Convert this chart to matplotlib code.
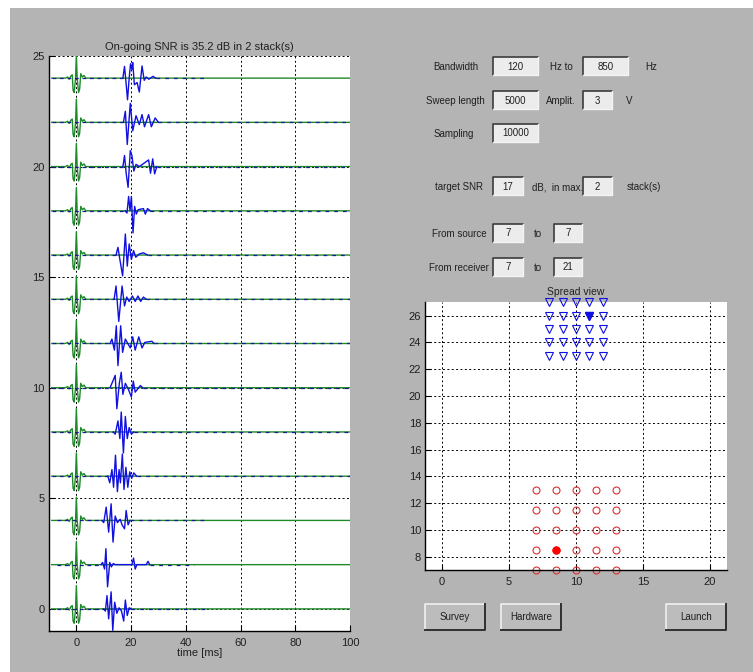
import numpy as np
import matplotlib.pyplot as plt
from matplotlib.patches import Rectangle

plt.rcParams['font.family'] = ['Liberation Sans', 'DejaVu Sans']
plt.rcParams['font.size'] = 7

# ---- trace data ----
trace_offsets = [0, 2, 4, 6, 8, 10, 12, 14, 16, 18, 20, 22, 24]
trace_start = [-7, -7, -7, -9, -9, -9, -9, -9, -9, -9, -9, -9, -9]
trace_end = [47, 43, 48, 100, 100, 100, 100, 100, 100, 100, 100, 100, 47]

# reference wavelet (green), time [ms] / amplitude
ref_t = [-9, -4, -3.2, -2.6, -2.0, -1.5, -1.2, -0.8, -0.3, 0.0, 0.3, 0.8, 1.2, 1.6, 2.2, 2.8, 3.4, 100]
ref_a = [0, 0, 0.05, -0.05, 0.1, 0.15, -0.55, -0.65, 0.0, 1.05, 0.0, -0.65, -0.5, 0.2, 0.05, 0.12, 0, 0]

# recorded arrivals (blue), one list of (time, amplitude) per trace
arr_t = [
    [10.0, 10.6, 11.2, 11.8, 12.7, 13.3, 14.0, 14.8, 15.6, 16.5, 17.3, 17.9, 18.6, 19.3, 20.0],
    [9.0, 9.6, 10.3, 10.8, 11.4, 12.2, 12.8, 13.5, 14.2, 20.3, 20.9, 21.5, 22.1, 25.5, 26.2, 26.8],
    [9.3, 10.0, 10.9, 11.8, 12.7, 13.4, 14.2, 15.0, 16.0, 16.7, 17.6, 18.2, 18.9, 19.6],
    [11.5, 12.2, 13.0, 13.6, 14.3, 15.0, 15.6, 16.1, 16.8, 17.4, 18.1, 18.8, 19.5, 20.2, 21.0, 22.0],
    [13.5, 14.2, 15.2, 15.9, 16.4, 17.2, 17.9, 18.6, 19.3, 20.1, 21.0],
    [12.3, 13.0, 14.2, 14.8, 15.7, 16.4, 17.0, 17.9, 19.1, 20.1, 20.8, 21.5, 23.4, 24.2],
    [12.3, 13.0, 13.9, 14.6, 15.2, 16.2, 16.9, 17.9, 19.7, 20.6, 21.5, 22.8, 24.0, 25.0, 27.6, 28.4],
    [13.8, 14.5, 15.5, 16.7, 17.6, 18.4, 19.3, 20.5, 21.5, 22.5, 23.5, 24.5, 25.5],
    [14.5, 15.2, 15.9, 16.9, 17.9, 18.6, 19.3, 20.1, 20.9, 21.7, 23.0, 24.5, 26.0],
    [17.8, 18.5, 19.1, 19.6, 20.1, 20.7, 21.3, 21.9, 22.6, 24.5, 25.2, 26.0, 27.0],
    [17.0, 17.6, 18.2, 18.9, 19.7, 20.3, 21.0, 21.8, 23.0, 26.4, 27.1, 27.9, 28.6, 29.4],
    [17.2, 17.9, 18.6, 19.7, 20.6, 21.8, 23.0, 24.0, 24.9, 26.4, 27.4, 28.8, 30.0],
    [17.0, 17.6, 18.0, 18.7, 19.3, 19.8, 20.3, 20.6, 21.2, 22.2, 23.0, 24.0, 24.8, 25.5, 26.5, 28.0, 29.0],
]
arr_a = [
    [0, -0.1, 0.6, -0.45, 0.77, -0.97, 0.3, -0.2, 0.05, -0.1, -0.55, 0.4, -0.3, 0.05, 0],
    [0, 0.1, -0.2, 0.72, -1.0, 0.1, -0.1, 0.05, 0, 0, 0.3, -0.2, 0, 0, 0.15, 0],
    [0, -0.1, 0.6, -0.53, 0.75, -0.98, 0.2, -0.1, 0.05, -0.2, -0.38, 0.45, -0.2, 0],
    [0, -0.3, 0.3, -0.5, 0.95, -0.7, 0.3, -0.3, 1.0, -0.6, 0.4, -0.5, 0.2, -0.1, 0.15, 0],
    [0, -0.1, 0.5, -0.3, 0.9, -0.95, 0.7, -0.3, 0.2, -0.1, 0],
    [0, 0.2, 0.56, -0.95, 0.2, 0.7, -0.3, 0.2, -0.1, -0.42, 0.3, -0.2, 0.1, 0],
    [0, 0.2, -0.3, 0.8, -1.0, 0.8, -0.4, 0.2, -0.2, 0.3, -0.3, 0.3, -0.2, 0.05, 0.1, 0],
    [0, 0.6, -1.0, 0.6, -0.3, 0.1, -0.1, 0.15, -0.1, 0.15, -0.1, 0.1, 0],
    [0, 0.35, -0.2, -0.94, 0.95, -0.5, 0.5, -0.2, 0.2, -0.1, 0.05, 0.1, 0],
    [0, -0.1, 0.65, 0.0, 0.65, -1.0, 0.2, -0.15, 0.05, 0.1, -0.15, 0.1, 0],
    [0, 0.5, -0.3, -0.94, 0.72, 0.5, -0.2, 0.1, 0, 0.3, -0.3, 0.35, -0.33, 0],
    [0, 0.5, -1.0, 0.86, -0.38, 0.3, -0.1, 0.35, -0.2, 0.35, -0.2, 0.2, 0],
    [0, 0.53, 0, -0.98, 0, 0.65, 0.4, 0.7, -0.3, -0.2, -0.63, 0.55, -0.1, 0.05, -0.05, 0.08, 0],
]

# ---- spread view data ----
rec_x = [8, 9, 10, 11, 12]
rec_y = [27, 26, 25, 24, 23]
src_x = [7, 8.5, 10, 11.5, 13]
src_y = [13, 11.5, 10, 8.5, 7]
active_rec = (11, 26)
active_src = (8.5, 8.5)

W, H = 753, 672
BG = '#b4b4b4'
fig = plt.figure(figsize=(W / 100, H / 100), dpi=100, facecolor='white')


def px_axes(l, t, r, b):
    return fig.add_axes([l / W, 1 - b / H, (r - l) / W, (b - t) / H])


# overlay in pixel coords for the gui parts
ov = fig.add_axes([0, 0, 1, 1])
ov.set_xlim(0, W)
ov.set_ylim(H, 0)
ov.axis('off')
ov.add_patch(Rectangle((10.5, 8), W - 10.5, H - 8, facecolor=BG, edgecolor='none'))


def edit_box(x0, y0, x1, y1, txt):
    ov.add_patch(Rectangle((x0, y0), x1 - x0, y1 - y0, facecolor='#ececec', edgecolor='none'))
    ov.plot([x0, x0, x1], [y1, y0, y0], color='#3c3c3c', lw=1.2)
    ov.plot([x0, x1, x1], [y1, y1, y0], color='#f4f4f4', lw=1.0)
    ov.text((x0 + x1) / 2, (y0 + y1) / 2 + 0.5, txt, ha='center', va='center', color='#202020')


def button(x0, y0, x1, y1, txt):
    ov.add_patch(Rectangle((x0, y0), x1 - x0, y1 - y0, facecolor='#bcbcbc', edgecolor='none'))
    ov.plot([x0, x0, x1], [y1, y0, y0], color='#f0f0f0', lw=1.2)
    ov.plot([x0, x1, x1], [y1, y1, y0], color='#303030', lw=1.4)
    ov.text((x0 + x1) / 2, (y0 + y1) / 2 + 0.5, txt, ha='center', va='center', color='#202020')


def label(x, y, txt):
    ov.text(x, y, txt, ha='center', va='center', color='#202020')


label(456, 67, 'Bandwidth')
edit_box(493, 57, 538, 75, '120')
label(561, 67, 'Hz to')
edit_box(583, 57, 628, 75, '850')
label(651, 67, 'Hz')

label(455, 101, 'Sweep length')
edit_box(493, 91, 538, 109, '5000')
label(561, 101, 'Amplit.')
edit_box(583, 91, 612, 109, '3')
label(629, 101, 'V')

label(454, 134, 'Sampling')
edit_box(493, 124, 538, 142, '10000')

label(459, 187, 'target SNR')
edit_box(493, 177, 523, 195, '17')
label(558, 187, 'dB,  in max.')
edit_box(583, 177, 612, 195, '2')
label(644, 187, 'stack(s)')

label(459, 234, 'From source')
edit_box(493, 224, 523, 242, '7')
label(538, 234, 'to')
edit_box(554, 224, 582, 242, '7')

label(459, 268, 'From receiver')
edit_box(493, 258, 523, 276, '7')
label(538, 268, 'to')
edit_box(554, 258, 582, 276, '21')

button(425, 604, 485, 630, 'Survey')
button(501, 604, 561, 630, 'Hardware')
button(666, 604, 726, 630, 'Launch')


def style_axes(ax):
    for s in ['top', 'right']:
        ax.spines[s].set_visible(False)
    for s in ['left', 'bottom']:
        ax.spines[s].set_color('black')
        ax.spines[s].set_linewidth(1.0)
    ax.tick_params(direction='in', length=4, width=0.8, labelsize=8, pad=3, colors='black',
                   labelcolor='#202020')
    ax.tick_params(axis='x', pad=5)
    ax.grid(True, color='black', linestyle=(0, (2, 2.5)), linewidth=0.7)
    ax.set_axisbelow(True)
    ax.set_facecolor('white')


# ---- seismogram panel ----
ax = px_axes(49, 56, 350, 631)
style_axes(ax)
for k, y0 in enumerate(trace_offsets):
    ax.plot(ref_t, np.array(ref_a) + y0, color='#1f8a2a', lw=1.0, zorder=2)
    t = arr_t[k]
    a = np.array(arr_a[k]) + y0
    ax.plot(t, a, color='#1010e0', lw=1.0, zorder=3)
    ax.plot([trace_start[k], t[0]], [y0, y0], color='#1a1a90', lw=0.9,
            linestyle=(0, (3, 3)), zorder=3)
    ax.plot([t[-1], trace_end[k]], [y0, y0], color='#1a1a90', lw=0.9,
            linestyle=(0, (3, 4)), zorder=3)
ax.set_xlim(-10, 100)
ax.set_ylim(-1, 25)
ax.set_xticks([0, 20, 40, 60, 80, 100])
ax.set_yticks([0, 5, 10, 15, 20, 25])
ax.set_title('On-going SNR is 35.2 dB in 2 stack(s)', fontsize=8, pad=4, color='#202020')
ax.set_xlabel('time [ms]', fontsize=8, labelpad=0, color='#202020')

# ---- spread view ----
ax2 = px_axes(425.3, 302.3, 726.7, 570)
style_axes(ax2)
gx, gy = np.meshgrid(rec_x, rec_y)
ax2.plot(gx.ravel(), gy.ravel(), 'v', mfc='none', mec='#1010e0', ms=6, mew=0.8, clip_on=False)
ax2.plot(*active_rec, 'v', mfc='#1010e0', mec='#1010e0', ms=6, clip_on=False)
sx, sy = np.meshgrid(src_x, src_y)
ax2.plot(sx.ravel(), sy.ravel(), 'o', mfc='none', mec='#d83030', ms=5, mew=0.8, clip_on=False)
ax2.plot(*active_src, 'o', mfc='#ff0000', mec='#ff0000', ms=5, clip_on=False)
ax2.set_xlim(-1.25, 21.25)
ax2.set_ylim(7, 27)
ax2.set_xticks([0, 5, 10, 15, 20])
ax2.set_yticks(range(8, 27, 2))
ax2.set_title('Spread view', fontsize=7.5, pad=5, color='#202020')

fig.savefig('out.png', dpi=100, facecolor=fig.get_facecolor())
